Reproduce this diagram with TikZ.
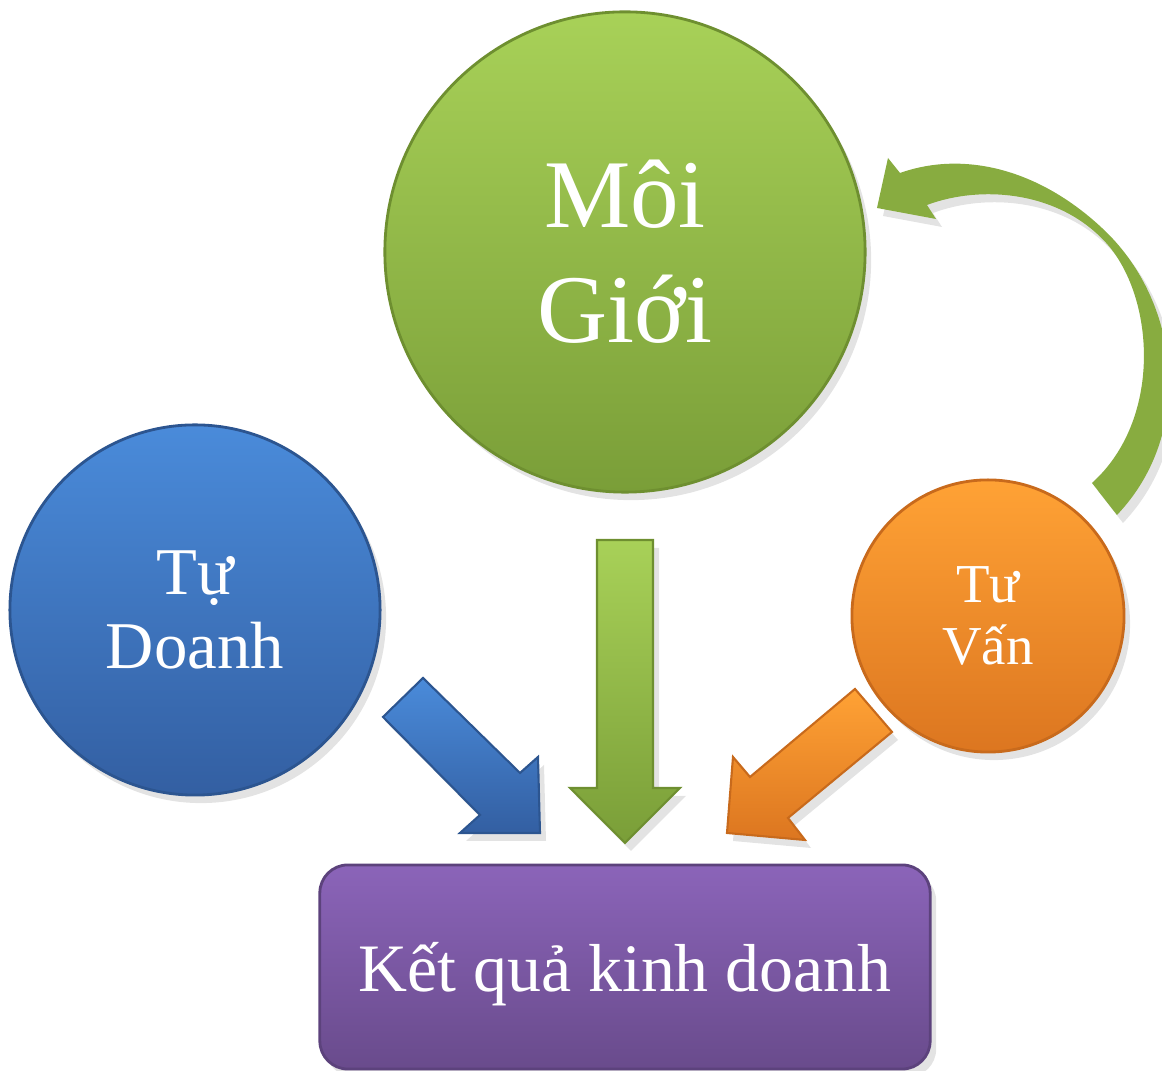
\documentclass[tikz,border=0pt]{standalone}
\usepackage{fontspec}
\setmainfont{Liberation Serif}
\usetikzlibrary{shadows}
\definecolor{gTop}{HTML}{A8D158}
\definecolor{gBot}{HTML}{7A9E38}
\definecolor{gEdge}{HTML}{6E8F30}
\definecolor{bTop}{HTML}{4A8BDA}
\definecolor{bBot}{HTML}{335FA2}
\definecolor{bEdge}{HTML}{2C5590}
\definecolor{oTop}{HTML}{FFA235}
\definecolor{oBot}{HTML}{DC7620}
\definecolor{oEdge}{HTML}{C86A1C}
\definecolor{pTop}{HTML}{8B64B9}
\definecolor{pBot}{HTML}{694B8C}
\definecolor{pEdge}{HTML}{5C427C}
\definecolor{curveG}{HTML}{88AC40}
\tikzset{
  softshadow/.style={drop shadow={opacity=0.22, shadow xshift=0.06cm, shadow yshift=-0.08cm}},
  ball/.style={circle, inner sep=0pt, text=white, align=center, softshadow, line width=0.8pt},
  blockarrow/.style={line width=0.6pt, softshadow},
}
\begin{document}
\begin{tikzpicture}[x=0.01cm, y=-0.01cm]
\useasboundingbox (0,0) rectangle (1162,1071);
\clip (0,0) rectangle (1162,1071);

% circles
\node[ball, minimum size=4.8cm, top color=gTop, bottom color=gBot, draw=gEdge,
  font=\fontsize{27.6}{32.7}\selectfont] (moigioi) at (625,252) {Môi\\Giới};
\node[ball, minimum size=3.7cm, top color=bTop, bottom color=bBot, draw=bEdge,
  font=\fontsize{19}{21.3}\selectfont] (tudoanh) at (195,610) {Tự\\Doanh};
\node[ball, minimum size=2.72cm, top color=oTop, bottom color=oBot, draw=oEdge,
  font=\fontsize{15.6}{17.6}\selectfont] (tuvan) at (988,616) {Tư\\Vấn};

% result box
\node[rectangle, rounded corners=0.28cm, minimum width=6.1cm, minimum height=2.04cm,
  top color=pTop, bottom color=pBot, draw=pEdge, line width=0.8pt, softshadow,
  text=white, text depth=0pt, font=\fontsize{19.3}{23}\selectfont] (ketqua) at (625,967) {Kết quả kinh doanh};

% block arrows
\filldraw[blockarrow, top color=bTop, bottom color=bBot, draw=bEdge]
  (383,717) -- (423,678) -- (520,773) -- (538,757) -- (540,833) -- (460,833) -- (480,815) -- cycle;
\filldraw[blockarrow, top color=gTop, bottom color=gBot, draw=gEdge]
  (597,540) -- (653,540) -- (653,788) -- (680,788) -- (625,843) -- (570,788) -- (597,788) -- cycle;
\filldraw[blockarrow, top color=oTop, bottom color=oBot, draw=oEdge]
  (855,689) -- (892,732) -- (788,818) -- (805,840) -- (727,833) -- (733,757) -- (750,777) -- cycle;

% curved arrow from Tu Van back to Moi Gioi
\fill[curveG, softshadow]
  (1092,483) -- (1117,515)
  .. controls (1196,432) and (1180,300) .. (1102,228)
  .. controls (1040,170) and (965,150) .. (900,173)
  -- (888,158) -- (877,208) -- (936,219) -- (927,205)
  .. controls (980,185) and (1060,190) .. (1108,245)
  .. controls (1155,300) and (1162,420) .. (1092,483)
  -- cycle;
\end{tikzpicture}
\end{document}
